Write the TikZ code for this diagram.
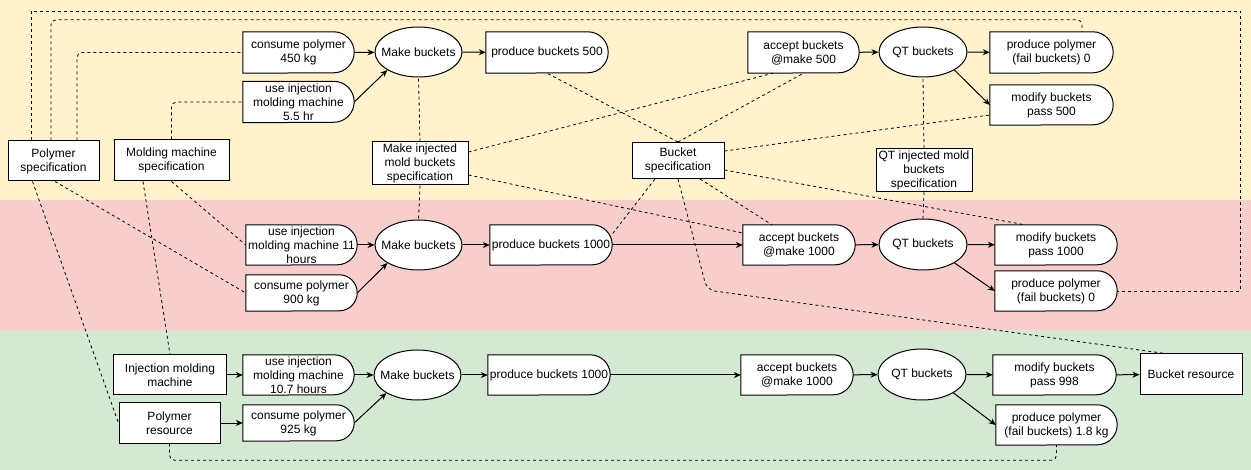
\documentclass[tikz,border=0pt]{standalone}
\usepackage{fontspec}
\setmainfont{Liberation Sans}
\usetikzlibrary{shapes.geometric,arrows.meta}
\pgfdeclarelayer{bands}
\pgfdeclarelayer{outl}
\pgfsetlayers{bands,outl,main}
\definecolor{bandY}{HTML}{FFF2CC}
\definecolor{bandR}{HTML}{F8CECC}
\definecolor{bandG}{HTML}{D5E8D4}
\newcommand\dly[2]{\draw[dlyline] (#1.north west) -- ([xshift=-#2pt]#1.north east) arc[start angle=90,end angle=-90,radius=#2pt] -- (#1.south west) -- cycle;}
\begin{document}
\begin{tikzpicture}[x=1pt,y=-1pt,
 every node/.style={font=\fontsize{12}{14}\selectfont},
 box/.style={draw=black, fill=white, line width=1pt, rectangle, align=center, inner sep=0pt},
 dbox/.style={rectangle, align=center, inner sep=0pt},
 ell/.style={draw=black, fill=white, line width=1pt, ellipse, inner sep=0pt, minimum width=87, minimum height=50},
 arr/.style={line width=1pt, -{Stealth[length=7pt,width=6pt]}},
 dsh/.style={line width=0.8pt, dash pattern=on 3pt off 3pt},
 dlyline/.style={draw=black, fill=white, line width=1pt}]
\useasboundingbox (0,0) rectangle (1251,470);
\begin{pgfonlayer}{bands}
\fill[bandY] (0,0) rectangle (1251,200);
\fill[bandR] (0,200) rectangle (1251,330);
\fill[bandG] (0,330) rectangle (1251,470);
\end{pgfonlayer}

% ---- top row
\node[dbox, minimum width=111, minimum height=41] (c450) at (298.5,52.5) {consume polymer\\450 kg};
\node[dbox, minimum width=111, minimum height=41] (u55) at (298.5,102) {use injection\\molding machine\\5.5 hr};
\node[ell, label=center:Make buckets] (mk1) at (418.5,52) {};
\node[dbox, minimum width=122, minimum height=41] (p500) at (547,52.5) {produce buckets 500};
\node[dbox, minimum width=111, minimum height=41] (a500) at (803.5,52.5) {accept buckets\\@make 500};
\node[ell, minimum width=88, label=center:QT buckets] (qt1) at (923,52) {};
\node[dbox, minimum width=123, minimum height=41] (f0a) at (1051.5,52.5) {produce polymer\\(fail buckets) 0};
\node[dbox, minimum width=123, minimum height=40] (m500) at (1051.5,105) {modify buckets\\pass 500};
\node[box, minimum width=91, minimum height=40] (ps) at (53.5,161) {Polymer\\specification};
\node[box, minimum width=115, minimum height=41] (mms) at (171.5,160.5) {Molding machine\\specification};
\node[box, minimum width=96, minimum height=43] (mis) at (420,163.5) {Make injected\\mold buckets\\specification};
\node[box, minimum width=92, minimum height=36] (bs) at (678,160.5) {Bucket\\specification};
\node[box, minimum width=96, minimum height=43] (qts) at (924,170) {QT injected mold\\buckets\\specification};

% ---- middle row
\node[dbox, minimum width=111, minimum height=40] (u11) at (301.5,245) {use injection\\molding machine 11\\hours};
\node[dbox, minimum width=111, minimum height=36] (c900) at (301.5,293) {consume polymer\\900 kg};
\node[ell, label=center:Make buckets] (mk2) at (418.5,245) {};
\node[dbox, minimum width=122, minimum height=40] (p1000b) at (551,245) {produce buckets 1000};
\node[dbox, minimum width=112, minimum height=40] (a1000b) at (799,245) {accept buckets\\@make 1000};
\node[ell, minimum width=88, minimum height=51, label=center:QT buckets] (qt2) at (923,244.5) {};
\node[dbox, minimum width=122, minimum height=40] (m1000) at (1056,245) {modify buckets\\pass 1000};
\node[dbox, minimum width=122, minimum height=40] (f0b) at (1056,291) {produce polymer\\(fail buckets) 0};

% ---- bottom row
\node[box, minimum width=113, minimum height=40] (imm) at (170,375) {Injection molding\\machine};
\node[box, minimum width=101, minimum height=40] (pr) at (169.5,423) {Polymer\\resource};
\node[dbox, minimum width=111, minimum height=40] (u107) at (298.5,375) {use injection\\molding machine\\10.7 hours};
\node[dbox, minimum width=111, minimum height=36] (c925) at (298.5,423) {consume polymer\\925 kg};
\node[ell, label=center:Make buckets] (mk3) at (417.5,375) {};
\node[dbox, minimum width=122, minimum height=40] (p1000c) at (549,375) {produce buckets 1000};
\node[dbox, minimum width=112, minimum height=40] (a1000c) at (797,375) {accept buckets\\@make 1000};
\node[ell, minimum width=88, minimum height=51, label=center:QT buckets] (qt3) at (922,374.5) {};
\node[dbox, minimum width=123, minimum height=40] (m998) at (1054.5,375) {modify buckets\\pass 998};
\node[dbox, minimum width=121, minimum height=40] (f18) at (1056.5,425) {produce polymer\\(fail buckets) 1.8 kg};
\node[box, minimum width=102, minimum height=41] (br) at (1191,374.5) {Bucket resource};

\begin{pgfonlayer}{outl}
\dly{c450}{20.5}\dly{u55}{20.5}\dly{p500}{20.5}\dly{a500}{20.5}\dly{f0a}{20.5}\dly{m500}{20}
\dly{u11}{20}\dly{c900}{18}\dly{p1000b}{20}\dly{a1000b}{20}\dly{m1000}{20}\dly{f0b}{20}
\dly{u107}{20}\dly{c925}{18}\dly{p1000c}{20}\dly{a1000c}{20}\dly{m998}{20}\dly{f18}{20}
\end{pgfonlayer}

% ---- solid arrows
\draw[arr] (c450.east) -- (mk1);
\draw[arr] (u55.east) -- (mk1.south west);
\draw[arr] (mk1) -- (p500);
\draw[arr] (a500) -- (qt1);
\draw[arr] (qt1) -- (f0a);
\draw[arr] (qt1.south east) -- (m500.west);

\draw[arr] (u11.east) -- (mk2);
\draw[arr] (c900.east) -- (mk2.south west);
\draw[arr] (mk2) -- (p1000b);
\draw[arr] (p1000b) -- (a1000b);
\draw[arr] (a1000b) -- (qt2);
\draw[arr] (qt2) -- (m1000);
\draw[arr] (qt2.south east) -- (f0b.west);

\draw[arr] (imm) -- (u107);
\draw[arr] (pr) -- (c925);
\draw[arr] (u107.east) -- (mk3);
\draw[arr] (c925.east) -- (mk3.south west);
\draw[arr] (mk3) -- (p1000c);
\draw[arr] (p1000c) -- (a1000c);
\draw[arr] (a1000c) -- (qt3);
\draw[arr] (qt3) -- (m998);
\draw[arr] (qt3.south east) -- (f18.west);
\draw[arr] (m998) -- (br);

% ---- dashed relations
\draw[dsh] ([xshift=-22.5]ps.north) |- (1240,11) |- (f0b.east);
\draw[dsh, rounded corners=5] ([xshift=-2.5]ps.north) |- ([xshift=30.5,yshift=12]f0a.north) -- ([xshift=30.5]f0a.north);
\draw[dsh, rounded corners=5] ([xshift=23.5]ps.north) |- (c450.west);
\draw[dsh, rounded corners=5] (mms.north) |- (u55.west);
\draw[dsh] ([xshift=-21]ps.south) -- (pr.west);
\draw[dsh] ([xshift=1.5]ps.south) -- (c900.west);
\draw[dsh] ([xshift=-28.5]mms.south) -- (imm.north);
\draw[dsh] (mms.south) -- (u11.west);
\draw[dsh] (mis.north) -- (mk1.south);
\draw[dsh] (mis.south) -- (mk2.north);
\draw[dsh] ([yshift=11.5]mis.east) -- ([xshift=-30.5]a500.south);
\draw[dsh] ([yshift=-11.5]mis.east) -- ([yshift=12]a1000b.west);
\draw[dsh] (bs.north) -- (p500.south);
\draw[dsh] (bs.north) -- (a500.south);
\draw[dsh] ([yshift=9.5]bs.east) -- ([yshift=-10]m500.west);
\draw[dsh] ([yshift=-9.5]bs.east) -- ([xshift=-31]m1000.north);
\draw[dsh] ([xshift=-23]bs.south) -- ([xshift=-2,yshift=-12]p1000b.north east);
\draw[dsh, rounded corners=8] (bs.south) -- (707,290) -- ([xshift=-26]br.north);
\draw[dsh] ([xshift=22]bs.south) -- ([xshift=-27]a1000b.north);
\draw[dsh] (qts.north) -- (qt1.south);
\draw[dsh] (qts.south) -- (qt2.north);
\draw[dsh, rounded corners=5] (pr.south) |- ([yshift=-15]f18.south) -- (f18.south);
\end{tikzpicture}
\end{document}
